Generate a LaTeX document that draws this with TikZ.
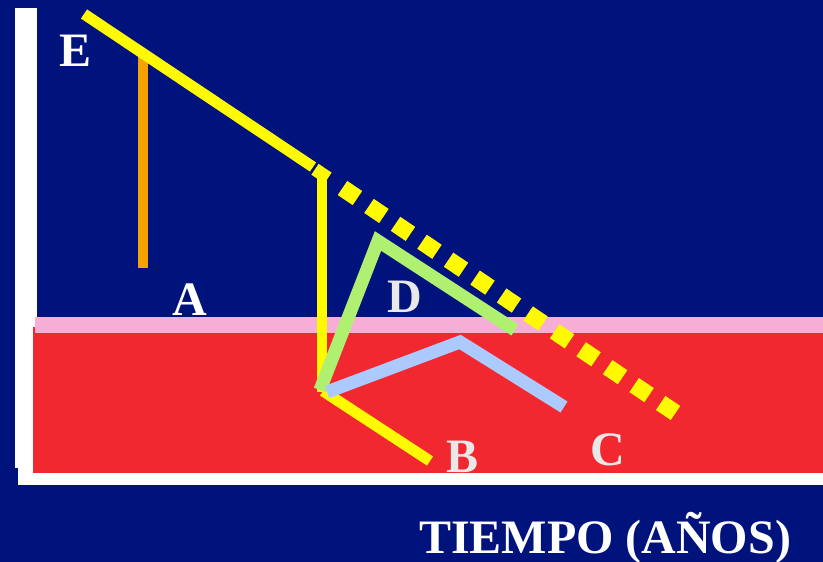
\documentclass[tikz,border=0pt]{standalone}
\usepackage{fontspec}
\setmainfont{Liberation Serif}
\definecolor{bgblue}{RGB}{0,18,124}
\definecolor{bandred}{RGB}{242,40,48}
\definecolor{bandpink}{RGB}{246,174,214}
\definecolor{lineyellow}{RGB}{255,250,0}
\definecolor{lineorange}{RGB}{245,162,0}
\definecolor{linegreen}{RGB}{176,240,112}
\definecolor{lineblue}{RGB}{172,202,255}
\definecolor{lightgray}{RGB}{232,232,232}
\tikzset{
  lbl/.style={inner sep=0pt, anchor=base, font=\fontsize{48}{48}\selectfont\bfseries},
  curve/.style={line width=#1, line cap=butt, line join=miter},
}
\begin{document}
\begin{tikzpicture}[x=1pt,y=-1pt]
\useasboundingbox (0,0) rectangle (823,562);
\fill[bgblue] (0,0) rectangle (823,562);
% axes
\fill[white] (15,8) rectangle (37,468);
\fill[white] (18,300) rectangle (37,485);
\fill[white] (18,440) rectangle (823,485);
\fill[bandred] (33,327) rectangle (823,473);
\fill[bandpink] (35,317) rectangle (823,333);
% points
\coordinate (e0) at (84,14);
\coordinate (e1) at (313,167);
\coordinate (dot0) at (342.5,188);
\coordinate (dot1) at (675.5,413);
\coordinate (k) at (322,174);
\coordinate (kb) at (322,392);
\coordinate (ka) at (315,169.3);
\coordinate (kc) at (328,178);
\coordinate (o0) at (143,55);
\coordinate (o1) at (143,268);
\coordinate (g0) at (320,390);
\coordinate (g1) at (378,241);
\coordinate (g2) at (515,330);
\coordinate (b0) at (327,392);
\coordinate (b1) at (460,342);
\coordinate (b2) at (564,407);
\coordinate (y0) at (323,391);
\coordinate (y1) at (430,461);
% lines
\draw[lineorange, curve=10pt] (o0) -- (o1);
\draw[lineyellow, curve=11pt] (e0) -- (e1);
\draw[lineyellow, curve=17pt, dash pattern=on 18pt off 14pt] (dot0) -- (dot1);
\draw[lineyellow, curve=10pt] (kb) -- (k);
\draw[lineyellow, curve=13pt] (ka) -- (kc);
\draw[lineyellow, curve=11pt] (y0) -- (y1);
\draw[linegreen, curve=13pt] (g0) -- (g1) -- (g2);
\draw[lineblue, curve=13pt] (b0) -- (b1) -- (b2);
% labels
\node[lbl, white] (lE) at (76,66) {E};
\node[lbl, white] (lA) at (190,315) {A};
\node[lbl, lightgray] (lD) at (405,312) {D};
\node[lbl, lightgray] (lB) at (463,472) {B};
\node[lbl, lightgray] (lC) at (608,465) {C};
\node[lbl, white] (lT) at (605,553) {TIEMPO (AÑOS)};
\end{tikzpicture}
\end{document}
